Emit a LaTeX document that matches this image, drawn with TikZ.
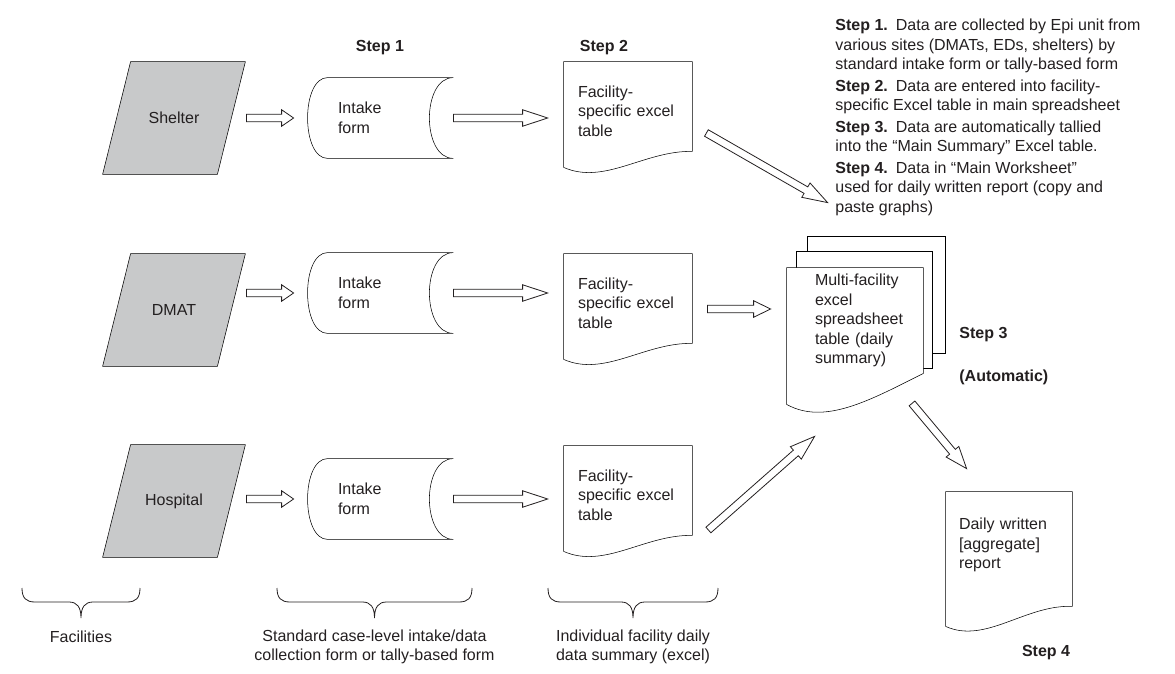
\documentclass[tikz,border=0pt]{standalone}
\usepackage{fontspec}
\setmainfont{Liberation Sans}
\usetikzlibrary{calc,backgrounds}
\definecolor{facgray}{RGB}{200,201,202}
\definecolor{ink}{RGB}{35,31,32}
\def\px{0.75pt}
% hollow block arrow: tail, tip, head length (px)
\newcommand{\fatarrow}[3]{%
  \coordinate (at) at (#1);
  \coordinate (ap) at (#2);
  \coordinate (ah) at ($(ap)!#3*\px!(at)$);
  \draw[fill=white] ($(at)!2.8pt!90:(ap)$) -- ($(ah)!2.8pt!-90:(at)$) -- ($(ah)!6.2pt!-90:(at)$) -- (ap)
    -- ($(ah)!6.2pt!90:(at)$) -- ($(ah)!2.8pt!90:(at)$) -- ($(at)!2.8pt!-90:(ap)$) -- cycle;}
% curly brace under a column: left x, right x
\def\groupbrace(#1,#2){\draw (#1,588) .. controls (#1,598) and (#1+4,602) .. (#1+13,602)
  -- ({(#1+#2)/2-12},602) .. controls ({(#1+#2)/2-4},602) and ({(#1+#2)/2},607) .. ({(#1+#2)/2},618)
  .. controls ({(#1+#2)/2},607) and ({(#1+#2)/2+4},602) .. ({(#1+#2)/2+12},602)
  -- (#2-13,602) .. controls (#2-4,602) and (#2,598) .. (#2,588);}
\tikzset{
  dtext/.style={font=\fontsize{12}{14.6}\selectfont, text=ink, inner sep=0pt},
  steplabel/.style={dtext, font=\fontsize{12}{14.6}\selectfont\bfseries},
  facility/.style={dtext, minimum width=142*\px, minimum height=112*\px},
  intake/.style={dtext, minimum width=145*\px, minimum height=80*\px, text width=85*\px, align=left},
  sheet/.style={dtext, minimum width=128*\px, minimum height=98*\px, text width=100*\px, align=left},
  report/.style={dtext, minimum width=126*\px, minimum height=106*\px, text width=100*\px, align=left},
  multisheet/.style={dtext, text width=95*\px, minimum height=105*\px, align=left},
}
\begin{document}
\begin{tikzpicture}[x=\px, y=-\px, draw=ink, line width=0.6pt]
\useasboundingbox (0,0) rectangle (1175,674);

\node[steplabel] (step1) at (380,48) {Step 1};
\node[steplabel] (step2) at (604,48) {Step 2};

%%% three facility rows
\foreach \nm/\txt/\fy/\iy/\dy [count=\r] in {shelter/Shelter/118/118/111, dmat/DMAT/310/293/303, hosp/Hospital/501/499/495} {
  \node[facility] (\nm) at (174,\fy) {\txt};
  \node[intake] (in\r) at (380.5,\iy) {Intake\\form};
  \node[sheet] (doc\r) at (628,\dy) {Facility-\\specific excel\\table};
  \begin{scope}[on background layer]
    \draw[fill=facgray] ($(\nm.north west)+(28,0)$) -- (\nm.north east) -- ($(\nm.south east)+(-28,0)$) -- (\nm.south west) -- cycle;
    \draw ($(in\r.north west)+(20,0)$) -- (in\r.north east) .. controls +(-32,0) and +(-32,0) .. (in\r.south east)
      -- ($(in\r.south west)+(20,0)$) .. controls +(-26.7,0) and +(-26.7,0) .. ($(in\r.north west)+(20,0)$);
    \draw ($(doc\r.south west)+(0,7)$) -- (doc\r.north west) -- (doc\r.north east) -- ($(doc\r.south east)+(0,-9)$)
      .. controls ($(doc\r.south west)+(81,-10)$) and ($(doc\r.south west)+(41,25)$) .. ($(doc\r.south west)+(0,7)$) -- cycle;
  \end{scope}
  \fatarrow{$(\nm.east |- in\r)+(1,0)$}{$(in\r.west)+(-14,0)$}{12}
  \fatarrow{$(in\r.east)$}{$(doc\r.west |- in\r)+(-16,0)$}{25}
}

%%% multi-facility spreadsheet
\node[multisheet] (multi) at (862.5,320.5) {Multi-facility\\excel\\spreadsheet\\table (daily\\summary)};
\begin{scope}[on background layer]
  \draw ($(multi.north west)+(-7,-16)$) -- ++(0,-15) -- ++(138,0) -- ++(0,117) -- ++(-13,0);
  \draw ($(multi.north west)+(-18,0)$) -- ++(0,-16) -- ++(136,0) -- ++(0,117) -- ++(-10,0);
  \draw[fill=white] ($(multi.north west)+(-28,0)$) -- ($(multi.north east)+(13,0)$) -- ($(multi.south east)+(13,0)$)
    .. controls ($(multi.south west)+(55,27)$) and ($(multi.south west)+(10,52)$) .. ($(multi.south west)+(-28,31)$) -- cycle;
\end{scope}
\node[steplabel, anchor=west] (step3) at (959,335) {Step 3};
\node[steplabel, anchor=west] (auto) at (959,377) {(Automatic)};

%%% daily report
\node[report] (rep) at (1009,545) {Daily written\\{}[aggregate]\\report};
\begin{scope}[on background layer]
  \draw ($(rep.south west)+(0,28)$) -- (rep.north west) -- (rep.north east) -- ($(rep.south east)+(0,8)$)
    .. controls ($(rep.south west)+(80,6)$) and ($(rep.south west)+(40,46)$) .. ($(rep.south west)+(0,28)$) -- cycle;
\end{scope}
\node[steplabel] (step4) at (1046,653) {Step 4};

\fatarrow{$(doc1.east)+(14,22)$}{$(multi.north west)+(13,-65)$}{25}
\fatarrow{$(doc2.east)+(15,6)$}{$(multi.west)+(-44,-11.5)$}{17}
\fatarrow{$(doc3.east)+(16,35)$}{$(multi.south west)+(0,63)$}{25}
\fatarrow{$(multi.south)+(49.5,30)$}{$(rep.north west)+(21,-23)$}{22}

%%% step notes
\node[dtext, anchor=north west, align=left] (notes) at (835,19) {%
  \textbf{Step 1.}\enspace Data are collected by Epi unit from\\
  various sites (DMATs, EDs, shelters) by\\
  standard intake form or tally-based form\\[1.5pt]
  \textbf{Step 2.}\enspace Data are entered into facility-\\
  specific Excel table in main spreadsheet\\[1.5pt]
  \textbf{Step 3.}\enspace Data are automatically tallied\\
  into the “Main Summary” Excel table.\\[1.5pt]
  \textbf{Step 4.}\enspace Data in “Main Worksheet”\\
  used for daily written report (copy and\\
  paste graphs)};

%%% column braces
\groupbrace(22,140)
\groupbrace(277,472)
\groupbrace(548,718)
\node[dtext] (facs) at (81,637) {Facilities};
\node[dtext, align=center] (forms) at (374.5,647) {Standard case-level intake/data\\collection form or tally-based form};
\node[dtext, align=center] (summ) at (633,647) {Individual facility daily\\data summary (excel)};
\end{tikzpicture}
\end{document}
